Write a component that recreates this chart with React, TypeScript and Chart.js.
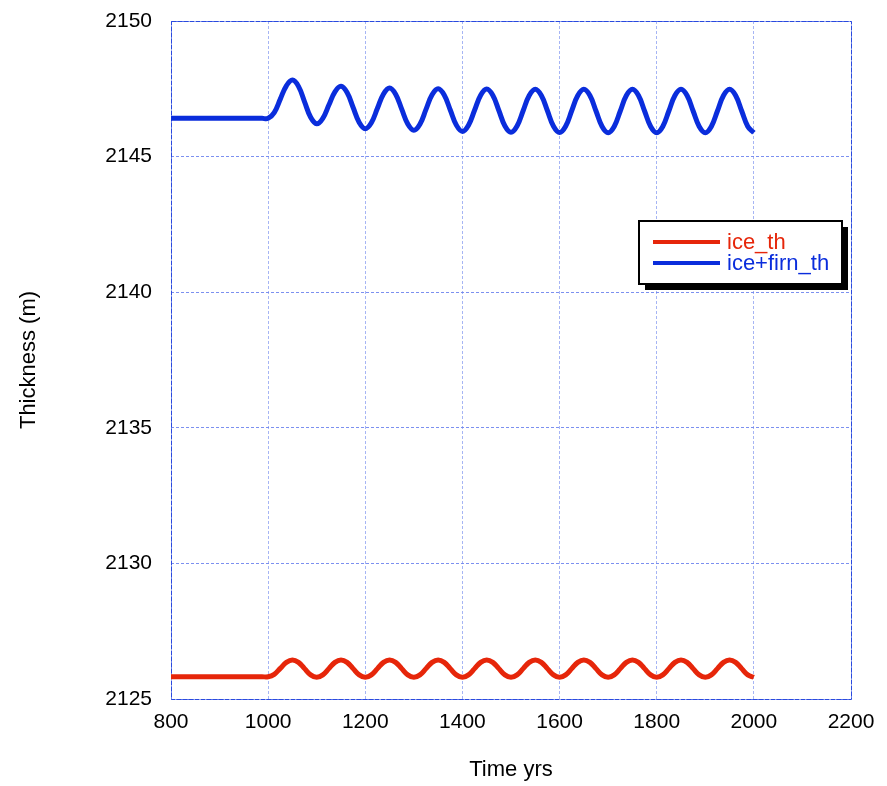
import React, { useEffect, useRef } from "react";
import { Chart, registerables } from "chart.js";

Chart.register(...registerables);

const years = [800, 987.5, 1000, 1012.5, 1025, 1037.5, 1050, 1062.5, 1075, 1087.5, 1100, 1112.5, 1125, 1137.5, 1150, 1162.5, 1175, 1187.5, 1200, 1212.5, 1225, 1237.5, 1250, 1262.5, 1275, 1287.5, 1300, 1312.5, 1325, 1337.5, 1350, 1362.5, 1375, 1387.5, 1400, 1412.5, 1425, 1437.5, 1450, 1462.5, 1475, 1487.5, 1500, 1512.5, 1525, 1537.5, 1550, 1562.5, 1575, 1587.5, 1600, 1612.5, 1625, 1637.5, 1650, 1662.5, 1675, 1687.5, 1700, 1712.5, 1725, 1737.5, 1750, 1762.5, 1775, 1787.5, 1800, 1812.5, 1825, 1837.5, 1850, 1862.5, 1875, 1887.5, 1900, 1912.5, 1925, 1937.5, 1950, 1962.5, 1975, 1987.5, 2000];

const iceFirnTh = [
  2146.41, 2146.41, 2146.41, 2146.62, 2147.12, 2147.61, 2147.82,
  2147.59, 2147.02, 2146.45, 2146.21,
  2146.41, 2146.9, 2147.39, 2147.59,
  2147.36, 2146.81, 2146.26, 2146.03,
  2146.25, 2146.78, 2147.31, 2147.53,
  2147.3, 2146.75, 2146.2, 2145.97,
  2146.19, 2146.74, 2147.28, 2147.5,
  2147.27, 2146.72, 2146.16, 2145.93,
  2146.16, 2146.71, 2147.26, 2147.49,
  2147.26, 2146.7, 2146.13, 2145.9,
  2146.13, 2146.69, 2147.25, 2147.48,
  2147.25, 2146.69, 2146.12, 2145.89,
  2146.12, 2146.69, 2147.25, 2147.48,
  2147.25, 2146.68, 2146.11, 2145.88,
  2146.11, 2146.68, 2147.25, 2147.48,
  2147.25, 2146.68, 2146.11, 2145.88,
  2146.11, 2146.68, 2147.25, 2147.48,
  2147.25, 2146.68, 2146.11, 2145.88,
  2146.11, 2146.68, 2147.25, 2147.48,
  2147.25, 2146.68, 2146.11, 2145.88,
];

const iceTh = [
  2125.82, 2125.82, 2125.82, 2125.91, 2126.13, 2126.35, 2126.44,
  2126.35, 2126.12, 2125.89, 2125.8,
  2125.89, 2126.12, 2126.35, 2126.44,
  2126.35, 2126.12, 2125.89, 2125.8,
  2125.89, 2126.12, 2126.35, 2126.44,
  2126.35, 2126.12, 2125.89, 2125.8,
  2125.89, 2126.12, 2126.35, 2126.44,
  2126.35, 2126.12, 2125.89, 2125.8,
  2125.89, 2126.12, 2126.35, 2126.44,
  2126.35, 2126.12, 2125.89, 2125.8,
  2125.89, 2126.12, 2126.35, 2126.44,
  2126.35, 2126.12, 2125.89, 2125.8,
  2125.89, 2126.12, 2126.35, 2126.44,
  2126.35, 2126.12, 2125.89, 2125.8,
  2125.89, 2126.12, 2126.35, 2126.44,
  2126.35, 2126.12, 2125.89, 2125.8,
  2125.89, 2126.12, 2126.35, 2126.44,
  2126.35, 2126.12, 2125.89, 2125.8,
  2125.89, 2126.12, 2126.35, 2126.44,
  2126.35, 2126.12, 2125.89, 2125.8,
];

const seriesNames = ["ice_th", "ice+firn_th"];
const seriesColors = ["#e6260a", "#0a2ddc"];

const FONT = "'Liberation Sans', Arial, Helvetica, sans-serif";

const framePlugin = {
  id: "frame",
  beforeDatasetsDraw(chart: any) {
    const { ctx, chartArea: a } = chart;
    ctx.save();
    ctx.strokeStyle = "#2a4ade";
    ctx.lineWidth = 1;
    ctx.setLineDash([5, 1]);
    ctx.strokeRect(Math.round(a.left) + 0.5, Math.round(a.top) + 0.5, Math.round(a.right - a.left), Math.round(a.bottom - a.top));
    ctx.restore();
  },
};

const legendPlugin = {
  id: "boxLegend",
  afterDraw(chart: any) {
    const ctx = chart.ctx;
    const x = 639, y = 221, w = 203, h = 63, sh = 6;
    ctx.save();
    ctx.fillStyle = "#000";
    ctx.fillRect(x + sh, y + sh, w, h);
    ctx.fillStyle = "#fff";
    ctx.fillRect(x, y, w, h);
    ctx.lineWidth = 2;
    ctx.strokeStyle = "#000";
    ctx.strokeRect(x, y, w, h);
    ctx.font = `22px ${FONT}`;
    ctx.textBaseline = "middle";
    ctx.lineCap = "butt";
    const rows = [242, 263];
    rows.forEach((ry, i) => {
      ctx.strokeStyle = seriesColors[i];
      ctx.lineWidth = 4;
      ctx.beginPath();
      ctx.moveTo(653, ry);
      ctx.lineTo(720, ry);
      ctx.stroke();
      ctx.fillStyle = seriesColors[i];
      ctx.fillText(seriesNames[i], 727, ry + 1);
    });
    ctx.restore();
  },
};

export default function App() {
  const ref = useRef<HTMLCanvasElement | null>(null);
  useEffect(() => {
    if (!ref.current) return;
    const mk = (vals: number[]) => years.map((x, i) => ({ x, y: vals[i] }));
    const chart = new Chart(ref.current, {
      type: "line",
      data: {
        datasets: [
          {
            label: seriesNames[0],
            data: mk(iceTh),
            borderColor: seriesColors[0],
            borderWidth: 5,
            pointRadius: 0,
            tension: 0.4,
            fill: false,
          },
          {
            label: seriesNames[1],
            data: mk(iceFirnTh),
            borderColor: seriesColors[1],
            borderWidth: 5,
            pointRadius: 0,
            tension: 0.4,
            fill: false,
          },
        ],
      },
      options: {
        animation: false,
        responsive: false,
        devicePixelRatio: 1,
        layout: { padding: { top: 21, right: 36, left: 0, bottom: 0 } },
        plugins: { legend: { display: false }, tooltip: { enabled: false } },
        scales: {
          x: {
            type: "linear",
            min: 800,
            max: 2200,
            afterFit: (s: any) => { s.height = 87; s.paddingLeft = 0; s.paddingRight = 0; },
            ticks: { stepSize: 200, color: "#000", font: { size: 21, family: FONT }, padding: 11, maxRotation: 0, callback: (v: any) => String(v) },
            grid: { color: "rgba(150,168,242,0.85)", lineWidth: 1, drawTicks: false },
            border: { display: false, dash: [3, 2] },
            title: { display: true, text: "Time yrs", color: "#000", font: { size: 22, family: FONT }, padding: { top: 0, bottom: 3 } },
          },
          y: {
            type: "linear",
            min: 2125,
            max: 2150,
            afterFit: (s: any) => { s.width = 171; s.paddingTop = 0; s.paddingBottom = 0; },
            ticks: { stepSize: 5, color: "#000", font: { size: 21, family: FONT }, padding: 19, callback: (v: any) => String(v) },
            grid: { color: "rgba(110,132,238,0.9)", lineWidth: 1, drawTicks: false },
            border: { display: false, dash: [3, 2] },
            title: { display: true, text: "Thickness (m)", color: "#000", font: { size: 22, family: FONT }, padding: { top: 16, bottom: 0 } },
          },
        },
      } as any,
      plugins: [framePlugin, legendPlugin],
    });
    return () => chart.destroy();
  }, []);
  return (
    <div style={{ position: "fixed", left: 0, top: 0, width: 887, height: 786, background: "#fff" }}>
      <canvas ref={ref} width={887} height={786} style={{ display: "block", width: 887, height: 786 }} />
    </div>
  );
}
